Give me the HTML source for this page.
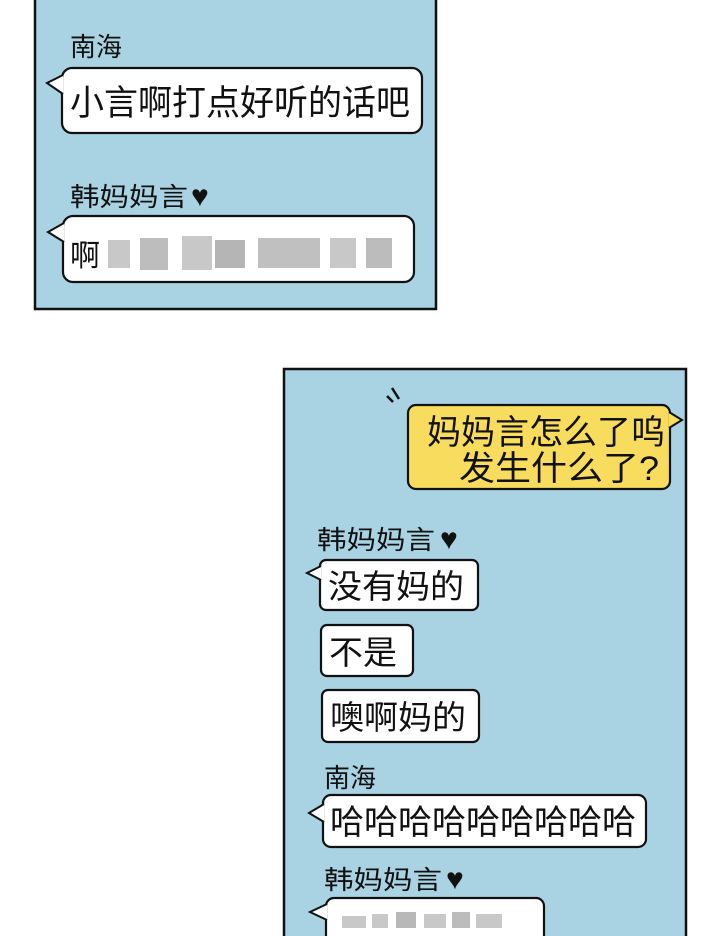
<!DOCTYPE html>
<html><head><meta charset="utf-8"><style>
html,body{margin:0;padding:0;background:#fff;}
svg{display:block;}
text{font-family:"Liberation Sans","Noto Sans CJK SC",sans-serif;fill:#111;}
</style></head><body>
<svg width="720" height="936" viewBox="0 0 720 936" xmlns="http://www.w3.org/2000/svg">
<rect x="0" y="0" width="720" height="936" fill="#fff"/>
<!-- panel 1 -->
<rect x="35" y="-4" width="401" height="313" fill="#a9d2e2" stroke="#111" stroke-width="2.5"/>
<text x="70" y="56" font-size="26">南海</text>
<rect x="62" y="68" width="360" height="65" rx="10" fill="#fff" stroke="#111" stroke-width="2.2"/>
<polygon points="63,75 47,83 63,94" fill="#fff"/>
<polyline points="63,75 47,83 63,94" fill="none" stroke="#111" stroke-width="2"/>
<text x="70" y="115" font-size="35" textLength="340" lengthAdjust="spacingAndGlyphs">小言啊打点好听的话吧</text>
<text x="70" y="206" font-size="26" textLength="118" lengthAdjust="spacingAndGlyphs">韩妈妈言</text><text x="191" y="206" font-size="30">♥</text>
<rect x="63" y="216" width="351" height="66" rx="10" fill="#fff" stroke="#111" stroke-width="2.2"/>
<polygon points="64,223 48,232 64,242" fill="#fff"/>
<polyline points="64,223 48,232 64,242" fill="none" stroke="#111" stroke-width="2"/>
<text x="70" y="266" font-size="30">啊</text>
<g fill="#c8c8c8">
<rect x="108" y="240" width="22" height="28"/><rect x="140" y="238" width="28" height="32" fill="#bdbdbd"/>
<rect x="182" y="236" width="30" height="34"/><rect x="215" y="240" width="30" height="28" fill="#b5b5b5"/>
<rect x="258" y="238" width="62" height="30" fill="#c0c0c0"/><rect x="330" y="238" width="26" height="30"/>
<rect x="366" y="238" width="26" height="30" fill="#bcbcbc"/>
</g>
<!-- panel 2 -->
<rect x="284" y="369" width="402" height="580" fill="#a9d2e2" stroke="#111" stroke-width="2.5"/>
<line x1="387" y1="396" x2="393" y2="402" stroke="#111" stroke-width="2.5"/>
<line x1="392" y1="388" x2="399" y2="399" stroke="#111" stroke-width="2.5"/>
<rect x="408" y="405" width="262" height="84" rx="8" fill="#f8dc5e" stroke="#111" stroke-width="2.2"/>
<polygon points="669,412 682,420 669,428" fill="#f8dc5e"/>
<polyline points="669,412 682,420 669,428" fill="none" stroke="#111" stroke-width="2"/>
<text x="427" y="444" font-size="34" textLength="238" lengthAdjust="spacingAndGlyphs">妈妈言怎么了呜</text>
<text x="459" y="480" font-size="34" textLength="200" lengthAdjust="spacingAndGlyphs">发生什么了?</text>
<text x="317" y="549" font-size="26" textLength="118" lengthAdjust="spacingAndGlyphs">韩妈妈言</text><text x="440" y="549" font-size="30">♥</text>
<rect x="320" y="560" width="158" height="50" rx="6" fill="#fff" stroke="#111" stroke-width="2.2"/>
<polygon points="321,566 307,573 321,580" fill="#fff"/>
<polyline points="321,566 307,573 321,580" fill="none" stroke="#111" stroke-width="2"/>
<text x="328" y="598" font-size="33" textLength="136" lengthAdjust="spacingAndGlyphs">没有妈的</text>
<rect x="321" y="625" width="92" height="51" rx="6" fill="#fff" stroke="#111" stroke-width="2.2"/>
<text x="329" y="664" font-size="33" textLength="68" lengthAdjust="spacingAndGlyphs">不是</text>
<rect x="322" y="690" width="157" height="52" rx="6" fill="#fff" stroke="#111" stroke-width="2.2"/>
<text x="330" y="729" font-size="33" textLength="136" lengthAdjust="spacingAndGlyphs">噢啊妈的</text>
<text x="324" y="787" font-size="26">南海</text>
<rect x="323" y="795" width="323" height="52" rx="8" fill="#fff" stroke="#111" stroke-width="2.2"/>
<polygon points="324,804 309,813 324,822" fill="#fff"/>
<polyline points="324,804 309,813 324,822" fill="none" stroke="#111" stroke-width="2"/>
<text x="330" y="834" font-size="34" textLength="306" lengthAdjust="spacingAndGlyphs">哈哈哈哈哈哈哈哈哈</text>
<text x="324" y="889" font-size="26" textLength="118" lengthAdjust="spacingAndGlyphs">韩妈妈言</text><text x="446" y="889" font-size="30">♥</text>
<rect x="326" y="898" width="218" height="60" rx="8" fill="#fff" stroke="#111" stroke-width="2.2"/>
<polygon points="327,904 310,912 327,920" fill="#fff"/>
<polyline points="327,904 310,912 327,920" fill="none" stroke="#111" stroke-width="2"/>
<g fill="#c8c8c8">
<rect x="342" y="916" width="24" height="12"/><rect x="372" y="914" width="16" height="14"/>
<rect x="396" y="912" width="20" height="16" fill="#b8b8b8"/><rect x="424" y="914" width="22" height="14"/>
<rect x="452" y="912" width="18" height="16" fill="#bcbcbc"/><rect x="476" y="914" width="26" height="14"/>
</g>
</svg>
</body></html>
